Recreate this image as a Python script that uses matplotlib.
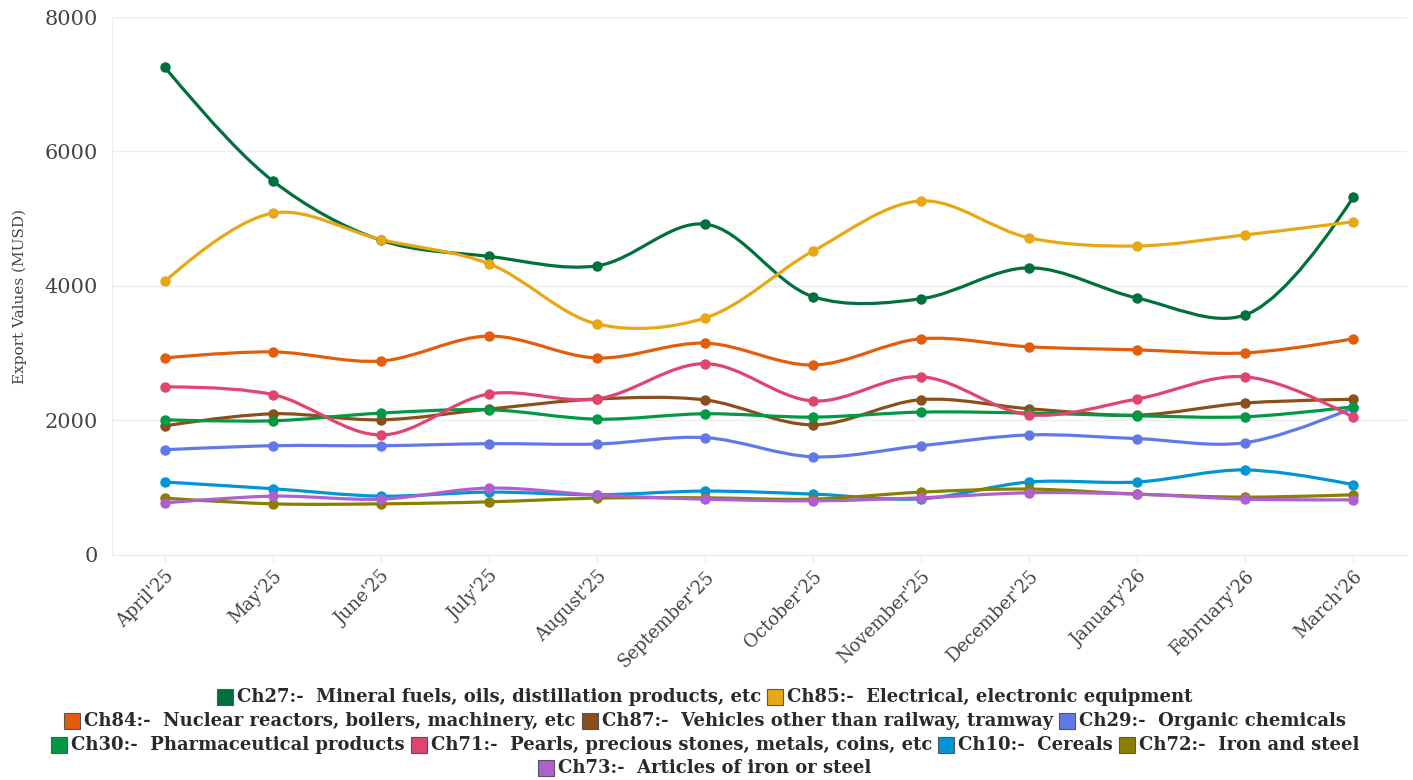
import numpy as np
import matplotlib
matplotlib.use('Agg')
import matplotlib.pyplot as plt
from matplotlib.path import Path
from matplotlib.patches import PathPatch, Rectangle

plt.rcParams['font.family'] = ['DejaVu Serif']

months = ["April'25", "May'25", "June'25", "July'25", "August'25", "September'25",
          "October'25", "November'25", "December'25", "January'26", "February'26", "March'26"]

series_names = [
    "Ch27:-  Mineral fuels, oils, distillation products, etc",
    "Ch85:-  Electrical, electronic equipment",
    "Ch84:-  Nuclear reactors, boilers, machinery, etc",
    "Ch87:-  Vehicles other than railway, tramway",
    "Ch29:-  Organic chemicals",
    "Ch30:-  Pharmaceutical products",
    "Ch71:-  Pearls, precious stones, metals, coins, etc",
    "Ch10:-  Cereals",
    "Ch72:-  Iron and steel",
    "Ch73:-  Articles of iron or steel",
]
colors = ['#00703c', '#e8a815', '#e35d0a', '#8a4f1c', '#6179e8',
          '#009a44', '#e0446f', '#0096d6', '#8a7f00', '#b05fcf']

ch27 = [7250, 5560, 4680, 4440, 4300, 4920, 3840, 3810, 4270, 3820, 3570, 5320]
ch85 = [4070, 5085, 4690, 4330, 3435, 3525, 4520, 5265, 4715, 4595, 4760, 4955]
ch84 = [2930, 3020, 2885, 3255, 2930, 3150, 2825, 3215, 3095, 3050, 3005, 3215]
ch87 = [1920, 2100, 2010, 2170, 2320, 2305, 1935, 2310, 2175, 2080, 2260, 2315]
ch29 = [1565, 1625, 1625, 1655, 1650, 1745, 1460, 1625, 1785, 1730, 1670, 2190]
ch30 = [2010, 1995, 2110, 2160, 2020, 2100, 2050, 2125, 2110, 2070, 2055, 2205]
ch71 = [2500, 2385, 1785, 2395, 2320, 2845, 2290, 2650, 2085, 2320, 2650, 2050]
ch10 = [1085, 985, 875, 935, 895, 950, 905, 835, 1085, 1085, 1265, 1045]
ch72 = [845, 760, 760, 790, 845, 850, 830, 935, 980, 905, 860, 895]
ch73 = [775, 875, 830, 995, 890, 830, 805, 850, 925, 905, 830, 820]

values = [ch27, ch85, ch84, ch87, ch29, ch30, ch71, ch10, ch72, ch73]


def tangent(p0, p1, p2, smooth=1.0):
    # same control-point rule plotly uses for its 'spline' line shape
    d1 = p0 - p1
    d2 = p2 - p1
    d1a = np.hypot(*d1) ** 0.5
    d2a = np.hypot(*d2) ** 0.5
    num = (d2a * d2a * d1 - d1a * d1a * d2) * smooth
    den1 = 3 * d2a * (d1a + d2a)
    den2 = 3 * d1a * (d1a + d2a)
    a = p1 + (num / den1 if den1 else 0)
    b = p1 - (num / den2 if den2 else 0)
    return a, b


def spline_path(ax, x, y):
    pts = ax.transData.transform(np.column_stack([x, y]).astype(float))
    n = len(pts)
    tans = [tangent(pts[i - 1], pts[i], pts[i + 1]) for i in range(1, n - 1)]
    verts = [pts[0], tans[0][0], pts[1]]
    codes = [Path.MOVETO, Path.CURVE3, Path.CURVE3]
    for i in range(2, n - 1):
        verts += [tans[i - 2][1], tans[i - 1][0], pts[i]]
        codes += [Path.CURVE4] * 3
    verts += [tans[n - 3][1], pts[n - 1]]
    codes += [Path.CURVE3] * 2
    verts = ax.transData.inverted().transform(np.array(verts))
    return Path(verts, codes)


fig = plt.figure(figsize=(14.13, 7.8), dpi=100)
ax = fig.add_axes([0.0793, 0.2885, 0.9167, 0.6897])

x = np.arange(len(months))
ax.set_xlim(-0.49, 11.5)
ax.set_ylim(0, 8000)

for name, vals, c in zip(series_names, values, colors):
    ax.add_patch(PathPatch(spline_path(ax, x, vals), facecolor='none', edgecolor=c,
                           lw=2.3, capstyle='round', joinstyle='round'))
    ax.plot(x, vals, 'o', color=c, markersize=6.5, zorder=3)

ax.set_yticks([0, 2000, 4000, 6000, 8000])
ax.set_xticks(x)
ax.set_xticklabels(months, rotation=45, ha='right', rotation_mode='anchor',
                   fontsize=13, color='#444444')
ax.tick_params(axis='x', length=5, color='#e6e6e6', pad=4)
ax.tick_params(axis='y', length=0, labelsize=15, labelcolor='#444444', pad=10)
ax.grid(axis='y', color='#eeeeee', lw=1)
ax.set_axisbelow(True)
for s in ['top', 'right']:
    ax.spines[s].set_visible(False)
ax.spines['left'].set_color('#eeeeee')
ax.spines['bottom'].set_color('#eeeeee')
ax.set_ylabel('Export Values (MUSD)', fontsize=11, color='#444444')
ax.yaxis.set_label_coords(-0.066, 0.48)

# legend laid out like a wrapped flow, centred row by row
rows = [[0, 1], [2, 3, 4], [5, 6, 7, 8], [9]]
row_y = [697, 721, 745, 768]
W, H = 1413, 780
fig.canvas.draw()
renderer = fig.canvas.get_renderer()
box = 16
gap = 4
item_gap = 6
for r, y_px in zip(rows, row_y):
    texts = []
    widths = []
    for i in r:
        t = fig.text(0, 0, series_names[i], fontsize=13, color='#2a2a2a',
                     weight='bold', va='center', ha='left')
        texts.append(t)
        widths.append(t.get_window_extent(renderer).width)
    total = sum(box + gap + w for w in widths) + item_gap * (len(r) - 1)
    xpos = 705 - total / 2
    for i, t, w in zip(r, texts, widths):
        fig.patches.append(Rectangle((xpos / W, 1 - (y_px + box / 2) / H), box / W, box / H,
                                     transform=fig.transFigure, facecolor=colors[i],
                                     edgecolor='#555555', lw=0.8))
        t.set_position(((xpos + box + gap) / W, 1 - y_px / H))
        xpos += box + gap + w + item_gap

fig.savefig('out.png', dpi=100, facecolor='white')
